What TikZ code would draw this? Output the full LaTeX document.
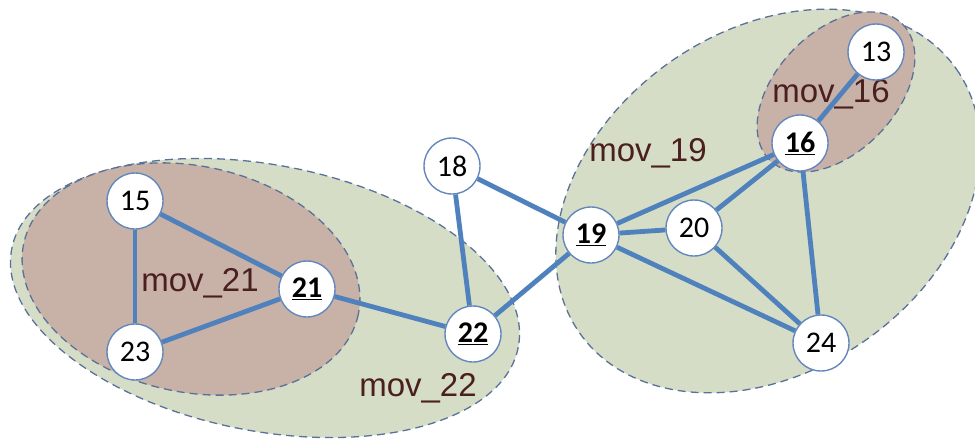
\documentclass[tikz,border=0pt]{standalone}
\usepackage{fontspec}
\setmainfont{Carlito}
\newfontfamily\groupfont{Liberation Sans}
\definecolor{edgeblue}{RGB}{79,129,189}
\definecolor{ringblue}{RGB}{100,135,190}
\definecolor{dashblue}{RGB}{90,113,153}
\definecolor{sage}{RGB}{213,221,199}
\definecolor{rosy}{RGB}{200,177,166}
\definecolor{labelbrown}{RGB}{74,31,31}
\tikzset{
  vnode/.style={circle, draw=ringblue, line width=1.4pt, fill=white,
    minimum size=56pt, inner sep=0pt, font=\fontsize{30}{33}\selectfont},
  link/.style={draw=edgeblue, line width=4.8pt},
  outergroup/.style={fill=sage, draw=dashblue, dash pattern=on 8pt off 5pt, line width=1.3pt},
  innergroup/.style={fill=rosy, draw=dashblue, dash pattern=on 8pt off 5pt, line width=1.3pt},
  grouplabel/.style={text=labelbrown, font=\groupfont\fontsize{33}{36}\selectfont, inner sep=0pt}
}
\newcommand{\hub}[1]{\textbf{\underline{#1}}}
\begin{document}
\begin{tikzpicture}[x=1pt, y=-1pt]
\useasboundingbox (0,0) rectangle (975,442);

% movement groups
\draw[outergroup, rotate around={-11:(265,298)}] (265,298) ellipse [x radius=258, y radius=133];
\draw[innergroup, rotate around={-12:(191,279)}] (191,279) ellipse [x radius=171, y radius=113];
\draw[outergroup, rotate around={35:(768,201)}] (768,201) ellipse [x radius=230, y radius=170];
\draw[innergroup, rotate around={46:(836,92)}] (836,92) ellipse [x radius=95, y radius=60];

\node[grouplabel] (l21) at (200,283) {mov\_21};
\node[grouplabel] (l22) at (418,388) {mov\_22};
\node[grouplabel] (l19) at (648,153) {mov\_19};
\node[grouplabel] (l16) at (831,94) {mov\_16};

% vertices
\node[vnode] (n13) at (876,52) {13};
\node[vnode] (n16) at (800,143) {\hub{16}};
\node[vnode] (n18) at (452,166) {18};
\node[vnode] (n15) at (135,201) {15};
\node[vnode] (n19) at (591,235) {\hub{19}};
\node[vnode] (n20) at (694,228) {20};
\node[vnode] (n21) at (307,289) {\hub{21}};
\node[vnode] (n22) at (473,334) {\hub{22}};
\node[vnode] (n23) at (135,352) {23};
\node[vnode] (n24) at (821,343) {24};

% links between vertices
\foreach \a/\b in {15/21, 15/23, 23/21, 21/22, 18/22, 18/19, 22/19, 19/16, 19/20, 19/24, 20/16, 20/24, 16/24, 16/13}
  \draw[link] (n\a) -- (n\b);
\end{tikzpicture}
\end{document}
